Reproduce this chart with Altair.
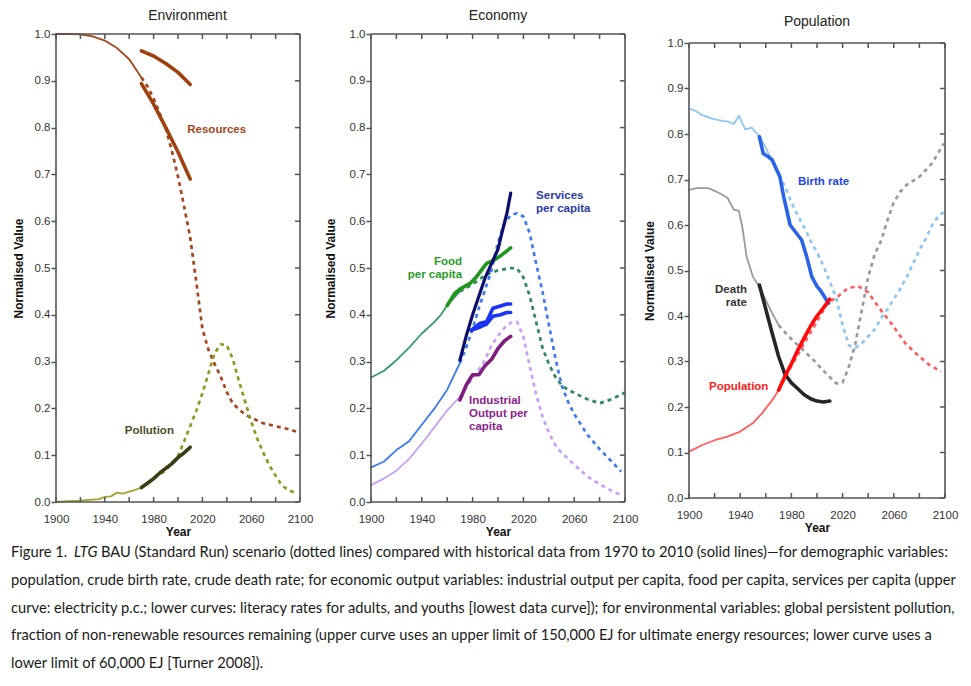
import altair as alt
import pandas as pd

# ---------------- Environment ----------------
res_model_years = [1900, 1910, 1920, 1930, 1940, 1950, 1960, 1970, 1975, 1980, 1985, 1990, 1995, 2000, 2005,
                   2010, 2015, 2020, 2025, 2030, 2035, 2040, 2045, 2050, 2055, 2060, 2070, 2080, 2090, 2100]
res_model_vals = [1.0, 1.0, 0.999, 0.995, 0.986, 0.970, 0.946, 0.907, 0.888, 0.862, 0.830, 0.798, 0.750, 0.695,
                  0.632, 0.565, 0.470, 0.370, 0.325, 0.295, 0.268, 0.235, 0.210, 0.198, 0.187, 0.180, 0.168,
                  0.162, 0.156, 0.148]
res_up_years = [1970, 1980, 1990, 2000, 2010]
res_up_vals = [0.964, 0.953, 0.937, 0.918, 0.892]
res_low_years = [1970, 1980, 1990, 2000, 2010]
res_low_vals = [0.894, 0.850, 0.800, 0.748, 0.690]

pol_model_years = [1900, 1910, 1920, 1930, 1935, 1940, 1945, 1950, 1955, 1960, 1965, 1970, 1980, 1990, 2000,
                   2005, 2010, 2015, 2020, 2025, 2030, 2035, 2040, 2045, 2050, 2055, 2060, 2065, 2070, 2075,
                   2080, 2085, 2090, 2095]
pol_model_vals = [0.0, 0.002, 0.003, 0.005, 0.006, 0.011, 0.012, 0.020, 0.018, 0.022, 0.026, 0.031, 0.050,
                  0.068, 0.098, 0.130, 0.162, 0.195, 0.232, 0.275, 0.318, 0.337, 0.335, 0.305, 0.258, 0.215,
                  0.172, 0.135, 0.105, 0.078, 0.056, 0.036, 0.026, 0.021]
pol_data_years = [1970, 1975, 1980, 1985, 1990, 1995, 2000, 2005, 2010]
pol_data_vals = [0.031, 0.040, 0.050, 0.062, 0.072, 0.082, 0.095, 0.105, 0.117]

# ---------------- Economy ----------------
food_model_years = [1900, 1910, 1920, 1930, 1940, 1950, 1955, 1960, 1965, 1970, 1980, 1990, 2000, 2010, 2015,
                    2020, 2025, 2030, 2035, 2040, 2045, 2050, 2055, 2060, 2070, 2080, 2090, 2100]
food_model_vals = [0.266, 0.280, 0.303, 0.330, 0.360, 0.385, 0.400, 0.420, 0.435, 0.450, 0.465, 0.485, 0.495,
                   0.500, 0.499, 0.480, 0.440, 0.385, 0.330, 0.295, 0.268, 0.250, 0.240, 0.233, 0.220, 0.211,
                   0.220, 0.234]
food_data_years = [1960, 1966, 1970, 1978, 1983, 1991, 1997, 2003, 2010]
food_data_vals = [0.420, 0.446, 0.455, 0.467, 0.481, 0.510, 0.517, 0.528, 0.543]

serv_model_years = [1900, 1910, 1920, 1930, 1940, 1950, 1960, 1970, 1975, 1980, 1985, 1990, 1995, 2000, 2005,
                    2010, 2015, 2020, 2025, 2030, 2035, 2040, 2045, 2050, 2055, 2060, 2070, 2080, 2090, 2097]
serv_model_vals = [0.074, 0.086, 0.111, 0.130, 0.165, 0.200, 0.240, 0.297, 0.330, 0.370, 0.415, 0.455, 0.496,
                   0.555, 0.595, 0.613, 0.617, 0.610, 0.574, 0.510, 0.450, 0.380, 0.310, 0.250, 0.215, 0.188,
                   0.145, 0.113, 0.085, 0.065]
serv_data_years = [1970, 1975, 1980, 1985, 1990, 1995, 2000, 2003, 2007, 2010]
serv_data_vals = [0.303, 0.355, 0.400, 0.440, 0.480, 0.510, 0.540, 0.574, 0.617, 0.660]

lit_up_years = [1979, 1986, 1991, 1996, 2002, 2007, 2010]
lit_up_vals = [0.367, 0.382, 0.385, 0.414, 0.419, 0.423, 0.423]
lit_low_years = [1979, 1986, 1991, 1996, 2002, 2007, 2010]
lit_low_vals = [0.367, 0.374, 0.380, 0.397, 0.400, 0.405, 0.405]

ind_model_years = [1900, 1910, 1920, 1930, 1940, 1950, 1960, 1970, 1975, 1980, 1985, 1990, 1995, 2000, 2005,
                   2010, 2015, 2020, 2025, 2030, 2035, 2040, 2045, 2050, 2055, 2060, 2070, 2080, 2090, 2097]
ind_model_vals = [0.036, 0.050, 0.067, 0.092, 0.125, 0.160, 0.196, 0.225, 0.245, 0.265, 0.283, 0.305, 0.335,
                  0.355, 0.372, 0.383, 0.385, 0.353, 0.290, 0.230, 0.183, 0.148, 0.122, 0.105, 0.093, 0.080,
                  0.055, 0.038, 0.023, 0.015]
ind_data_years = [1970, 1975, 1980, 1985, 1990, 1995, 2000, 2005, 2010]
ind_data_vals = [0.218, 0.250, 0.272, 0.272, 0.292, 0.305, 0.328, 0.344, 0.354]

# ---------------- Population ----------------
birth_model_years = [1900, 1905, 1910, 1918, 1926, 1931, 1935, 1939, 1944, 1949, 1955, 1960, 1965, 1970, 1975,
                     1980, 1985, 1990, 1995, 2000, 2005, 2010, 2015, 2020, 2025, 2030, 2035, 2040, 2045, 2050,
                     2055, 2060, 2065, 2070, 2075, 2080, 2085, 2090, 2095, 2099]
birth_model_vals = [0.856, 0.851, 0.842, 0.834, 0.829, 0.827, 0.822, 0.840, 0.810, 0.814, 0.795, 0.770, 0.740,
                    0.710, 0.685, 0.650, 0.620, 0.595, 0.565, 0.540, 0.510, 0.475, 0.440, 0.380, 0.335, 0.330,
                    0.340, 0.355, 0.370, 0.395, 0.415, 0.437, 0.460, 0.485, 0.515, 0.545, 0.570, 0.600, 0.620,
                    0.628]
birth_data_years = [1955, 1958, 1962, 1965, 1971, 1974, 1979, 1985, 1988, 1992, 1996, 2000, 2003, 2009]
birth_data_vals = [0.794, 0.757, 0.750, 0.743, 0.706, 0.662, 0.600, 0.578, 0.567, 0.530, 0.486, 0.465, 0.455,
                   0.428]

death_model_years = [1900, 1906, 1915, 1920, 1925, 1930, 1935, 1939, 1942, 1945, 1950, 1955, 1960, 1965, 1970,
                     1978, 1986, 1996, 2007, 2015, 2020, 2025, 2030, 2035, 2040, 2045, 2050, 2055, 2060, 2065,
                     2070, 2080, 2090, 2099]
death_model_vals = [0.677, 0.681, 0.681, 0.675, 0.668, 0.660, 0.634, 0.631, 0.590, 0.530, 0.486, 0.464, 0.435,
                    0.406, 0.380, 0.355, 0.333, 0.307, 0.274, 0.252, 0.254, 0.289, 0.340, 0.413, 0.486, 0.535,
                    0.565, 0.610, 0.650, 0.673, 0.688, 0.706, 0.736, 0.779]
death_data_years = [1955, 1960, 1965, 1970, 1975, 1980, 1985, 1990, 1995, 2000, 2005, 2010]
death_data_vals = [0.468, 0.415, 0.362, 0.311, 0.272, 0.253, 0.240, 0.227, 0.218, 0.213, 0.211, 0.213]

pop_model_years = [1900, 1910, 1920, 1930, 1940, 1950, 1957, 1965, 1970, 1980, 1990, 2000, 2008, 2016, 2024,
                   2032, 2040, 2048, 2058, 2069, 2080, 2088, 2097]
pop_model_vals = [0.102, 0.116, 0.127, 0.135, 0.146, 0.165, 0.186, 0.215, 0.237, 0.290, 0.340, 0.388, 0.428,
                  0.442, 0.461, 0.466, 0.452, 0.420, 0.384, 0.340, 0.311, 0.292, 0.278]
pop_data_years = [1970, 1975, 1980, 1985, 1990, 1995, 2000, 2005, 2010]
pop_data_vals = [0.237, 0.268, 0.295, 0.325, 0.352, 0.378, 0.400, 0.418, 0.437]

# ---------------- axes & caption text ----------------
X_TICKS = [1900, 1920, 1940, 1960, 1980, 2000, 2020, 2040, 2060, 2080, 2100]
Y_TICKS = [0.0, 0.1, 0.2, 0.3, 0.4, 0.5, 0.6, 0.7, 0.8, 0.9, 1.0]

caption_first = ["Figure 1. ", "LTG",
                 " BAU (Standard Run) scenario (dotted lines) compared with historical data from 1970 to 2010 (solid lines)\u2014for demographic variables:"]
caption_lines = [
    "population, crude birth rate, crude death rate; for economic output variables:  industrial output per capita, food per capita, services per capita (upper",
    "curve: electricity p.c.; lower curves: literacy rates for adults, and youths [lowest data curve]); for environmental variables: global persistent pollution,",
    "fraction of non-renewable resources remaining (upper curve uses an upper limit of 150,000 EJ for ultimate energy resources; lower curve uses a",
    "lower limit of 60,000 EJ [Turner 2008]).",
]

FONT = "Liberation Sans"
CAPFONT = "Lato"
TICK = "#555555"
FRAME = "#555555"


class Panel:
    def __init__(self, W, PW, H, top, ytp):
        # W: group width, PW: plot-frame width, H: group height, top: top inset of plot frame
        self.W, self.PW, self.H, self.T = W, PW, H, top
        self.xs = alt.Scale(domain=[1900, 2100], nice=False, zero=False, range=[0, PW])
        self.ys = alt.Scale(domain=[0, 1], nice=False, zero=True, range=[H, top])
        self.xaxis = alt.Axis(
            values=X_TICKS, ticks=False, domain=False, grid=False, labelFlush=False,
            labelExpr="(datum.value - 1900) % 40 == 0 ? format(datum.value, 'd') : ''",
            labelFont=FONT, labelFontSize=11.5, labelColor="#333333", labelPadding=11,
            title="Year", titleFont=FONT, titleFontSize=12, titleFontWeight="bold",
            titleColor="#111111", titlePadding=2)
        self.yaxis = alt.Axis(
            values=Y_TICKS, format=".1f", ticks=True, tickSize=5, tickColor=TICK, tickWidth=1.5,
            domain=False, grid=False, labelFlush=False, labelFont=FONT, labelFontSize=11.5,
            labelColor="#333333", labelPadding=1, title="Normalised Value", titleFont=FONT,
            titleFontSize=12, titleFontWeight="bold", titleColor="#111111", titlePadding=ytp)

    def X(self):
        return alt.X("year:Q", scale=self.xs, axis=self.xaxis)

    def Y(self):
        return alt.Y("v:Q", scale=self.ys, axis=self.yaxis)

    def series(self, years, vals, color, width, dash=None, lo=None, hi=None):
        df = pd.DataFrame({"year": years, "v": vals})
        if lo is not None:
            df = df[df.year >= lo]
        if hi is not None:
            df = df[df.year <= hi]
        kw = dict(color=color, strokeWidth=width, strokeJoin="round")
        if dash:
            kw["strokeDash"] = dash
            kw["strokeCap"] = "butt"
        else:
            kw["strokeCap"] = "round"
        return alt.Chart(df).mark_line(**kw).encode(x=self.X(), y=self.Y())

    def model(self, years, vals, thin_color, dot_color, split=1970):
        return [self.series(years, vals, thin_color, 1.8, hi=split),
                self.series(years, vals, dot_color, 2.7, dash=[4, 4], lo=split)]

    def label(self, texts, year, val, color, align):
        step = 13.0 / (self.H - self.T)
        df = pd.DataFrame({"t": texts, "year": [year] * len(texts),
                           "v": [val - i * step for i in range(len(texts))]})
        return alt.Chart(df).mark_text(font=FONT, fontSize=11.5, fontWeight="bold", color=color,
                                       align=align, baseline="middle").encode(
            x=self.X(), y=self.Y(), text="t:N")

    def frame(self):
        PW, H, T = self.PW, self.H, self.T
        xt = pd.DataFrame({"year": X_TICKS})
        yt = pd.DataFrame({"v": Y_TICKS})
        one = pd.DataFrame({"k": [0]})
        rk = dict(color=TICK, strokeWidth=1.5)
        fk = dict(color=FRAME, strokeWidth=1.6)
        return [
            alt.Chart(xt).mark_rule(**rk).encode(x=self.X(), y=alt.value(H - 5), y2=alt.value(H)),
            alt.Chart(xt).mark_rule(**rk).encode(x=self.X(), y=alt.value(T), y2=alt.value(T + 5)),
            alt.Chart(yt).mark_rule(**rk).encode(y=self.Y(), x=alt.value(PW - 5), x2=alt.value(PW)),
            alt.Chart(one).mark_rule(**fk).encode(x=alt.value(0), x2=alt.value(PW), y=alt.value(T)),
            alt.Chart(one).mark_rule(**fk).encode(x=alt.value(0), x2=alt.value(PW), y=alt.value(H)),
            alt.Chart(one).mark_rule(**fk).encode(x=alt.value(0), y=alt.value(T), y2=alt.value(H)),
            alt.Chart(one).mark_rule(**fk).encode(x=alt.value(PW), y=alt.value(T), y2=alt.value(H)),
        ]

    def build(self, layers, title, offset):
        t = alt.TitleParams(text=title, font=FONT, fontSize=14, fontWeight="normal", color="#222222",
                            offset=offset, anchor="middle", frame="group")
        return alt.layer(*layers, *self.frame()).properties(width=self.W, height=self.H, title=t)


# Panel 1 : Environment (group a little wider than its frame, to set the gaps)
P1 = Panel(263, 244, 468, 0, 9)
env_layers = (
    P1.model(res_model_years, res_model_vals, "#A5451A", "#A5451A")
    + [P1.series(res_up_years, res_up_vals, "#A0400F", 3.6),
       P1.series(res_low_years, res_low_vals, "#A0400F", 3.6)]
    + P1.model(pol_model_years, pol_model_vals, "#A3A332", "#8E9A1E")
    + [P1.series(pol_data_years, pol_data_vals, "#3A3D14", 3.6),
       P1.label(["Resources"], 2031.7, 0.795, "#A5451A", "center"),
       P1.label(["Pollution"], 1976.5, 0.152, "#4A4E1E", "center")]
)

# Panel 2 : Economy
P2 = Panel(254, 254, 468, 0, 12)
eco_layers = (
    P2.model(food_model_years, food_model_vals, "#3A9A68", "#2E8B57")
    + P2.model(serv_model_years, serv_model_vals, "#3D7BF0", "#3D7BF0")
    + P2.model(ind_model_years, ind_model_vals, "#C9A0F5", "#C9A0F5")
    + [P2.series(food_data_years, food_data_vals, "#1E961E", 3.6),
       P2.series(ind_data_years, ind_data_vals, "#7E1F7E", 3.6),
       P2.series(lit_up_years, lit_up_vals, "#1A35F5", 3.6),
       P2.series(lit_low_years, lit_low_vals, "#1A35F5", 3.6),
       P2.series(serv_data_years, serv_data_vals, "#0D0D6B", 3.2),
       P2.label(["Services", "per capita"], 2030, 0.654, "#2B3BA8", "left"),
       P2.label(["Food", "per capita"], 1971.7, 0.513, "#2A9A2A", "right"),
       P2.label(["Industrial", "Output per", "capita"], 1977.2, 0.216, "#8B228B", "left")]
)

# Panel 3 : Population (plot frame starts 9px lower)
P3 = Panel(256, 256, 464, 9, 11)
pop_layers = (
    P3.model(birth_model_years, birth_model_vals, "#8CC6F2", "#8CC6F2")
    + P3.model(death_model_years, death_model_vals, "#9A9A9A", "#9A9A9A")
    + P3.model(pop_model_years, pop_model_vals, "#FF5C5C", "#FF5C5C")
    + [P3.series(birth_data_years, birth_data_vals, "#2A62E8", 3.6),
       P3.series(death_data_years, death_data_vals, "#262626", 3.6),
       P3.series(pop_data_years, pop_data_vals, "#FF0A0A", 3.6),
       P3.label(["Birth rate"], 1985.2, 0.695, "#2244EE", "left"),
       P3.label(["Death", "rate"], 1945.3, 0.457, "#333333", "right"),
       P3.label(["Population"], 1915.6, 0.244, "#FF1A1A", "left")]
)

p1 = P1.build(env_layers, "Environment", 5)
p2 = P2.build(eco_layers, "Economy", 5)
p3 = P3.build(pop_layers, "Population", 5)

# Caption
cap_df = pd.DataFrame({"line": [1, 2, 3, 4], "t": caption_lines})
first_df = pd.DataFrame({"line": [0], "a": [caption_first[0]], "b": [caption_first[1]],
                         "c": [caption_first[2]]})
ysc = alt.Scale(domain=[0, 1, 2, 3, 4], paddingInner=0, paddingOuter=0)
cap_kw = dict(font=CAPFONT, fontSize=14.7, color="#1a1a1a", align="left", baseline="middle")
X0 = -45
cap_rest = alt.Chart(cap_df).mark_text(**cap_kw).encode(
    x=alt.value(X0), y=alt.Y("line:O", scale=ysc, axis=None), text="t:N")
cap_a = alt.Chart(first_df).mark_text(**cap_kw).encode(
    x=alt.value(X0), y=alt.Y("line:O", scale=ysc, axis=None), text="a:N")
cap_b = alt.Chart(first_df).mark_text(fontStyle="italic", **cap_kw).encode(
    x=alt.value(X0 + 63), y=alt.Y("line:O", scale=ysc, axis=None), text="b:N")
cap_c = alt.Chart(first_df).mark_text(**cap_kw).encode(
    x=alt.value(X0 + 90), y=alt.Y("line:O", scale=ysc, axis=None), text="c:N")
caption = alt.layer(cap_rest, cap_a, cap_b, cap_c).properties(width=880, height=139)

top_row = alt.hconcat(p1, p2, p3, spacing=3)
chart = alt.vconcat(top_row, caption, spacing=0).properties(
    padding={"left": 2, "top": 0, "right": 0, "bottom": 0}
).configure_view(stroke="transparent")

chart.save("out.html", embed_options={"renderer": "svg", "actions": False})
